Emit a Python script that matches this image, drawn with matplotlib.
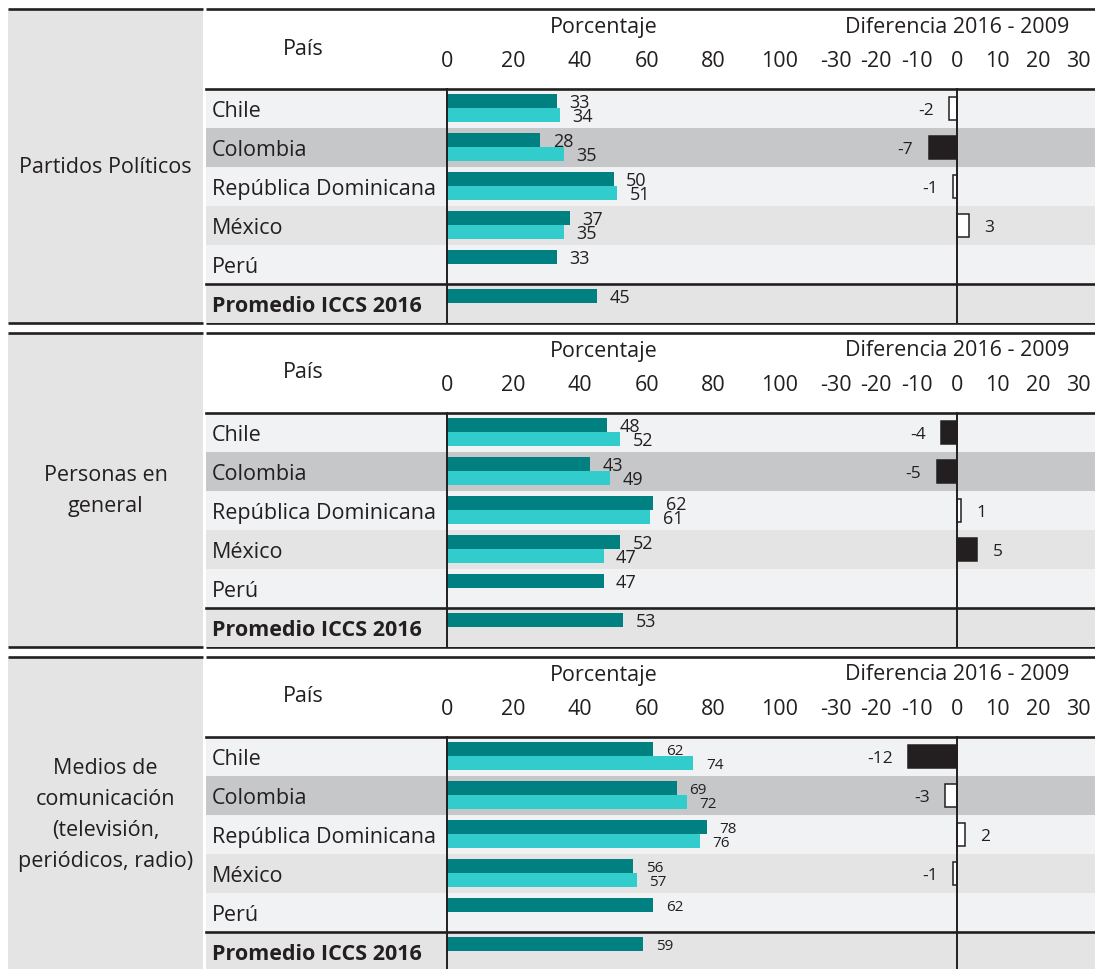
import numpy as np
import matplotlib
matplotlib.use("Agg")
import matplotlib.pyplot as plt
from matplotlib.patches import Rectangle

plt.rcParams['font.family'] = ['Open Sans', 'DejaVu Sans']
plt.rcParams['axes.unicode_minus'] = False

# ---------------- data ----------------
countries = ["Chile", "Colombia", "República Dominicana", "México", "Perú", "Promedio ICCS 2016"]
panel_titles = ["Partidos Políticos",
                "Personas en\ngeneral",
                "Medios de\ncomunicación\n(televisión,\nperiódicos, radio)"]

pct_2016_partidos = [33, 28, 50, 37, 33, 45]
pct_2009_partidos = [34, 35, 51, 35, None, None]
diff_partidos = [-2, -7, -1, 3, None, None]
sig_partidos = [False, True, False, False, False, False]

pct_2016_personas = [48, 43, 62, 52, 47, 53]
pct_2009_personas = [52, 49, 61, 47, None, None]
diff_personas = [-4, -5, 1, 5, None, None]
sig_personas = [True, True, False, True, False, False]

pct_2016_medios = [62, 69, 78, 56, 62, 59]
pct_2009_medios = [74, 72, 76, 57, None, None]
diff_medios = [-12, -3, 2, -1, None, None]
sig_medios = [True, False, False, False, False, False]

pct_ticks = [0, 20, 40, 60, 80, 100]
pct_tick_labels = ["0", "20", "40", "60", "80", "100"]
diff_ticks = [-30, -20, -10, 0, 10, 20, 30]
diff_tick_labels = ["-30", "-20", "-10", "0", "10", "20", "30"]

panels = [
    (panel_titles[0], pct_2016_partidos, pct_2009_partidos, diff_partidos, sig_partidos),
    (panel_titles[1], pct_2016_personas, pct_2009_personas, diff_personas, sig_personas),
    (panel_titles[2], pct_2016_medios, pct_2009_medios, diff_medios, sig_medios),
]

# ---------------- style / layout ----------------
W, H = 1095, 969
DARK = "#231f20"
TEAL = "#008080"
CYAN = "#33cccc"
ROW_COLORS = ["#f1f2f4", "#c6c7c9", "#f1f2f4", "#e4e4e4", "#f1f2f4", "#e4e4e4"]
LEFT_BG = "#e4e4e4"
FS = 15.5

PANEL_TOPS = [9, 333, 657]
HEADER_H = 80
ROW_H = 39
N_ROWS = 6
LEFT_X0, LEFT_X1 = 8, 203
TAB_X0, TAB_X1 = 206, 1095
PCT_X0, PCT_PX = 447, 3.33
SPLIT_X = 800
DIFF_ZERO, DIFF_PX = 957, 4.05

fig = plt.figure(figsize=(W / 100, H / 100), dpi=100)


def frect(x0, y0, x1, y1):
    return [x0 / W, 1 - y1 / H, (x1 - x0) / W, (y1 - y0) / H]


bg = fig.add_axes([0, 0, 1, 1])
bg.set_xlim(0, W)
bg.set_ylim(H, 0)
bg.axis('off')

for p, (title, v16, v09, dif, sig) in enumerate(panels):
    top = PANEL_TOPS[p]
    rows_top = top + HEADER_H
    bottom = rows_top + ROW_H * N_ROWS
    small = (p == 2)

    # left grey column and frame lines
    bg.add_patch(Rectangle((LEFT_X0, top), LEFT_X1 - LEFT_X0, bottom - top,
                           facecolor=LEFT_BG, edgecolor='none', zorder=0))
    for y in (top, bottom):
        bg.plot([LEFT_X0, LEFT_X1], [y, y], color=DARK, lw=1.9, solid_capstyle='butt')
        bg.plot([TAB_X0, TAB_X1], [y, y], color=DARK, lw=1.9, solid_capstyle='butt')
    bg.text((LEFT_X0 + LEFT_X1) / 2, (top + bottom) / 2 + 1, title, ha='center', va='center',
            fontsize=FS, color=DARK, linespacing=1.63, multialignment='center')

    # header texts
    bg.text(303, top + 40, "País", ha='center', va='center', fontsize=FS, color=DARK)
    bg.text(604, top + 18, "Porcentaje", ha='center', va='center', fontsize=FS, color=DARK)
    bg.text(DIFF_ZERO, top + 18, "Diferencia 2016 - 2009", ha='center', va='center',
            fontsize=FS, color=DARK)

    # table rows
    tab = fig.add_axes(frect(TAB_X0, rows_top, TAB_X1, bottom))
    tab.set_xlim(0, 1)
    tab.set_ylim(N_ROWS, 0)
    tab.axis('off')
    for i, c in enumerate(ROW_COLORS):
        tab.axhspan(i, i + 1, color=c, lw=0)
    for yy in (0, N_ROWS - 1):
        tab.axhline(yy, color=DARK, lw=1.9, clip_on=False)
    xt = (212 - TAB_X0) / (TAB_X1 - TAB_X0)
    for i, name in enumerate(countries):
        tab.text(xt, i + 0.58, name, transform=tab.get_yaxis_transform(),
                 ha='left', va='center', fontsize=FS, color=DARK,
                 fontweight='bold' if i == N_ROWS - 1 else 'normal')

    # percentage bars
    pct_xmax = (SPLIT_X - PCT_X0) / PCT_PX
    ax = fig.add_axes(frect(PCT_X0, rows_top, SPLIT_X, bottom))
    ax.set_facecolor('none')
    ax.set_xlim(0, pct_xmax)
    ax.set_ylim(N_ROWS, 0)
    for s in ax.spines.values():
        s.set_visible(False)
    ax.set_yticks([])
    ax.xaxis.tick_top()
    ax.set_xticks(pct_ticks)
    ax.set_xticklabels(pct_tick_labels)
    ax.tick_params(axis='x', length=0, pad=12, labelsize=FS, labelcolor=DARK)
    ax.axvline(0, color=DARK, lw=1.4, clip_on=False)

    bh = 14 / ROW_H
    lab_fs = 11 if small else 13
    for i in range(N_ROWS):
        y_dark = i + 12 / ROW_H
        y_light = i + 26 / ROW_H
        ax.barh(y_dark, v16[i], height=bh, color=TEAL, lw=0)
        ax.annotate(str(v16[i]), (v16[i], y_dark), xytext=(9, -1.5), textcoords='offset points',
                    ha='left', va='center', fontsize=lab_fs, color=DARK)
        if v09[i] is not None:
            ax.barh(y_light, v09[i], height=bh, color=CYAN, lw=0)
            ax.annotate(str(v09[i]), (v09[i], y_light), xytext=(9, -1.5),
                        textcoords='offset points', ha='left', va='center',
                        fontsize=lab_fs, color=DARK)

    # difference bars
    dxmin = -(DIFF_ZERO - SPLIT_X) / DIFF_PX
    dxmax = (TAB_X1 - DIFF_ZERO) / DIFF_PX
    dx = fig.add_axes(frect(SPLIT_X, rows_top, TAB_X1, bottom))
    dx.set_facecolor('none')
    dx.set_xlim(dxmin, dxmax)
    dx.set_ylim(N_ROWS, 0)
    for s in dx.spines.values():
        s.set_visible(False)
    dx.set_yticks([])
    dx.xaxis.tick_top()
    dx.set_xticks(diff_ticks)
    dx.set_xticklabels(diff_tick_labels)
    dx.tick_params(axis='x', length=0, pad=12, labelsize=FS, labelcolor=DARK)
    dx.axvline(0, color=DARK, lw=1.4, clip_on=False, zorder=3)
    for i in range(N_ROWS):
        d = dif[i]
        if d is None:
            continue
        dx.barh(i + 0.5, d, height=23 / ROW_H, color=DARK if sig[i] else 'white',
                edgecolor=DARK, lw=1.1, zorder=2)
        off = 11 if d > 0 else -11
        dx.annotate(str(d), (d, i + 0.5), xytext=(off, -1.5), textcoords='offset points',
                    ha='left' if d > 0 else 'right', va='center', fontsize=12.5, color=DARK)

fig.savefig("out.png", dpi=100)
